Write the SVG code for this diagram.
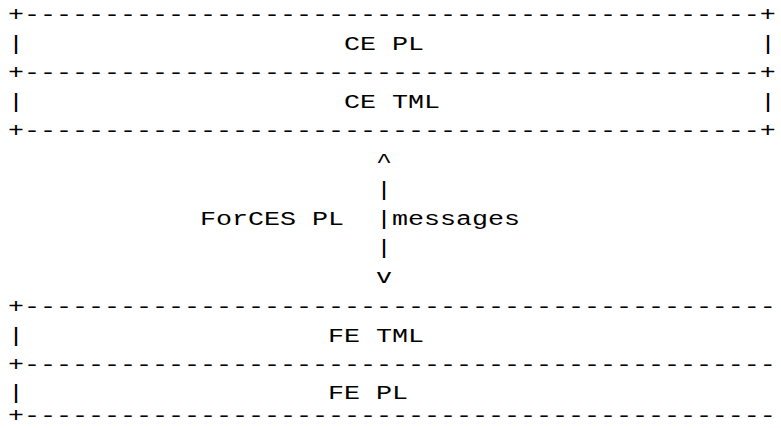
<svg xmlns="http://www.w3.org/2000/svg" width="781" height="428" viewBox="0 0 781 428">
<style>
text { font-family: "Liberation Mono", "Courier New", "DejaVu Sans Mono", monospace; font-size: 20px; fill: #000; white-space: pre; }
</style>
<rect width="781" height="428" fill="#fff"/>
<g transform="scale(1.333333 1)">
<g id="ce-pl">
<text x="6" y="20.7">+----------------------------------------------+</text>
<text x="6" y="49.9">|</text>
<text x="258" y="49.9">CE PL</text>
<text x="570" y="49.9">|</text>
</g>
<g id="ce-tml">
<text x="6" y="79.1">+----------------------------------------------+</text>
<text x="6" y="108.3">|</text>
<text x="258" y="108.3">CE TML</text>
<text x="570" y="108.3">|</text>
<text x="6" y="137.5">+----------------------------------------------+</text>
</g>
<g id="connectors">
<text x="282" y="166.7">^</text>
<text x="282" y="195.9">|</text>
<text x="282" y="225.1">|</text>
<text x="282" y="254.3">|</text>
<text x="282" y="283.5">v</text>
<text x="150" y="225.1">ForCES PL</text>
<text x="294" y="225.1">messages</text>
</g>
<g id="fe-tml">
<text x="6" y="312.7">+-----------------------------------------------</text>
<text x="6" y="341.9">|</text>
<text x="246" y="341.9">FE TML</text>
<text x="6" y="371.1">+-----------------------------------------------</text>
</g>
<g id="fe-pl">
<text x="6" y="399.3">|</text>
<text x="246" y="399.3">FE PL</text>
<text x="6" y="422">+-----------------------------------------------</text>
</g>
</g>
</svg>
